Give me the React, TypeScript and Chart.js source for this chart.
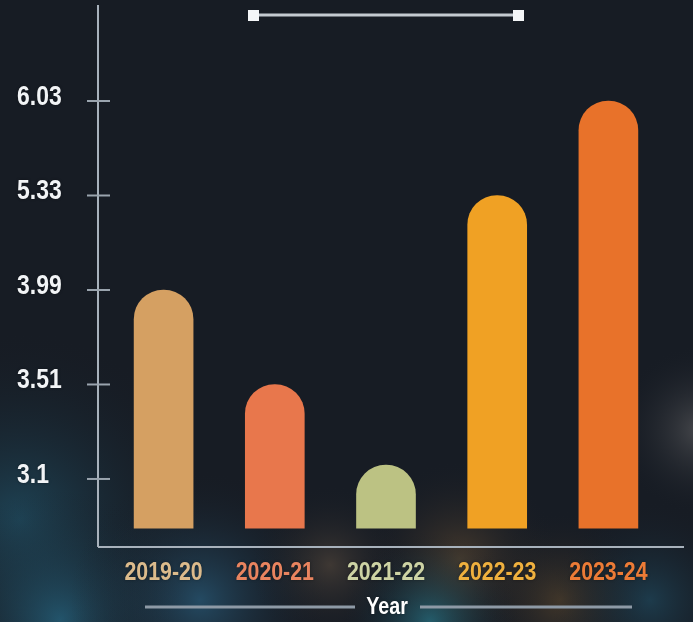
import React, { useEffect, useRef } from 'react';
import { Chart, registerables } from 'chart.js';

Chart.register(...registerables);

const categories = ['2019-20', '2020-21', '2021-22', '2022-23', '2023-24'];
const values = [3.99, 3.51, 3.16, 5.33, 6.03];
const tickLabels = ['3.1', '3.51', '3.99', '5.33', '6.03'];
const barColors = ['#d5a062', '#e8774c', '#bcc283', '#f0a124', '#e8722a'];
const labelColors = ['#dcbb8c', '#e9845f', '#cdd3a4', '#efb03e', '#ec7b36'];
const xTitle = 'Year';

const tickValues = tickLabels.map(Number);
// the reference axis places its labelled values at even steps: map a value to that step position
function toPos(v: number): number {
  const n = tickValues.length;
  for (let i = 0; i < n - 1; i++) {
    if (v <= tickValues[i + 1] || i === n - 2) {
      return i + 1 + (v - tickValues[i]) / (tickValues[i + 1] - tickValues[i]);
    }
  }
  return n;
}

const BAR_BASE = 0.48;
const FONT = '"Liberation Sans", Arial, "DejaVu Sans", sans-serif';
const SQUEEZE = 0.82;

function drawText(ctx: any, text: string, x: number, y: number, size: number, color: string, align: string) {
  ctx.save();
  ctx.font = `bold ${size}px ${FONT}`;
  ctx.fillStyle = color;
  ctx.textBaseline = 'middle';
  ctx.textAlign = align;
  ctx.shadowColor = 'rgba(0,0,0,0.35)';
  ctx.shadowBlur = 3;
  ctx.translate(x, y);
  ctx.scale(SQUEEZE, 1);
  ctx.fillText(text, 0, 0);
  ctx.restore();
}

const bgPlugin = {
  id: 'bgPlugin',
  beforeDraw(chart: any) {
    const { ctx, width, height } = chart;
    ctx.save();
    ctx.fillStyle = '#171c24';
    ctx.fillRect(0, 0, width, height);
    const glow = (x: number, y: number, r: number, c: string) => {
      const g = ctx.createRadialGradient(x, y, 0, x, y, r);
      g.addColorStop(0, c);
      g.addColorStop(1, 'rgba(23,28,36,0)');
      ctx.fillStyle = g;
      ctx.fillRect(0, 0, width, height);
    };
    glow(20, 520, 190, 'rgba(35,95,120,0.6)');
    glow(60, 620, 130, 'rgba(40,110,140,0.65)');
    glow(200, 600, 130, 'rgba(45,105,140,0.6)');
    glow(330, 565, 80, 'rgba(110,90,70,0.45)');
    glow(460, 560, 100, 'rgba(130,95,55,0.45)');
    glow(560, 600, 90, 'rgba(130,95,50,0.4)');
    glow(430, 622, 90, 'rgba(40,125,145,0.65)');
    glow(650, 600, 100, 'rgba(35,90,115,0.5)');
    glow(700, 430, 85, 'rgba(95,95,97,0.65)');
    ctx.restore();
  },
};

const decoPlugin = {
  id: 'decoPlugin',
  beforeDatasetsDraw(chart: any) {
    const { ctx, chartArea } = chart;
    const yScale = chart.scales.y;
    const xScale = chart.scales.x;
    const axisX = chartArea.left - 10;
    ctx.save();
    ctx.strokeStyle = '#a8b2bc';
    ctx.lineWidth = 2;
    ctx.beginPath();
    ctx.moveTo(axisX, chartArea.top);
    ctx.lineTo(axisX, chartArea.bottom);
    ctx.moveTo(axisX, chartArea.bottom);
    ctx.lineTo(chartArea.right + 20, chartArea.bottom);
    ctx.stroke();
    ctx.strokeStyle = '#9aa4ae';
    yScale.ticks.forEach((t: any, i: number) => {
      const py = yScale.getPixelForValue(t.value);
      ctx.beginPath();
      ctx.moveTo(axisX - 11, py);
      ctx.lineTo(axisX + 12, py);
      ctx.stroke();
      drawText(ctx, tickLabels[i], axisX - 81, py - 4, 28, '#f2f4f6', 'left');
    });
    categories.forEach((c, i) => {
      drawText(ctx, c, xScale.getPixelForValue(i), chartArea.bottom + 26, 26, labelColors[i], 'center');
    });
    // top decoration
    const cx = xScale.getPixelForValue(2);
    const ty = chartArea.top + 10;
    ctx.strokeStyle = '#c4cad0';
    ctx.lineWidth = 3;
    ctx.beginPath();
    ctx.moveTo(cx - 133, ty);
    ctx.lineTo(cx + 133, ty);
    ctx.stroke();
    ctx.fillStyle = '#f4f6f8';
    ctx.fillRect(cx - 138, ty - 5, 11, 11);
    ctx.fillRect(cx + 127, ty - 5, 11, 11);
    // x title with side lines
    const yy = chart.height - 15;
    ctx.strokeStyle = '#8e9aa6';
    ctx.lineWidth = 3;
    ctx.beginPath();
    ctx.moveTo(cx - 241, yy);
    ctx.lineTo(cx - 31, yy);
    ctx.moveTo(cx + 34, yy);
    ctx.lineTo(cx + 246, yy);
    ctx.stroke();
    drawText(ctx, xTitle, cx + 1, yy, 24, '#ffffff', 'center');
    ctx.restore();
  },
};

export default function App() {
  const ref = useRef<HTMLCanvasElement>(null);
  useEffect(() => {
    if (!ref.current) return;
    const chart = new Chart(ref.current, {
      type: 'bar',
      data: {
        labels: categories,
        datasets: [
          {
            data: values.map((v) => [BAR_BASE, toPos(v)]) as any,
            backgroundColor: barColors,
            barThickness: 59,
            borderRadius: { topLeft: 29.5, topRight: 29.5, bottomLeft: 0, bottomRight: 0 },
            borderSkipped: false,
            borderWidth: 0,
          },
        ],
      },
      options: {
        animation: false,
        responsive: false,
        layout: { padding: { left: 0, right: 29, top: 5, bottom: 0 } },
        plugins: { legend: { display: false }, tooltip: { enabled: false }, title: { display: false } },
        scales: {
          x: {
            type: 'category',
            offset: true,
            grid: { display: false, drawTicks: false },
            border: { display: false },
            ticks: { display: false },
            afterFit: (s: any) => {
              s.height = 75;
              s.paddingLeft = 0;
              s.paddingRight = 0;
            },
          },
          y: {
            type: 'linear',
            min: 0.28,
            max: 6.016,
            grid: { display: false, drawTicks: false },
            border: { display: false },
            afterBuildTicks: (s: any) => {
              s.ticks = tickLabels.map((_, i) => ({ value: i + 1 }));
            },
            ticks: { display: false },
            afterFit: (s: any) => {
              s.width = 108;
              s.paddingTop = 0;
              s.paddingBottom = 0;
            },
          },
        },
      },
      plugins: [bgPlugin, decoPlugin],
    });
    return () => chart.destroy();
  }, []);
  return (
    <div style={{ position: 'fixed', left: 0, top: 0, width: 693, height: 622 }}>
      <canvas ref={ref} width={693} height={622} />
    </div>
  );
}
